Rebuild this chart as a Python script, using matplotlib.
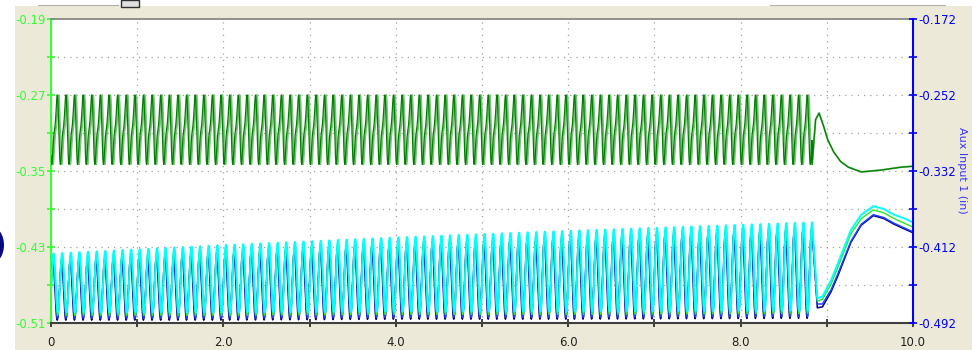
import numpy as np
import matplotlib
matplotlib.use("Agg")
import matplotlib.pyplot as plt
from matplotlib.patches import Rectangle, Ellipse

# ---------------- data ----------------
x_range = [0.0, 10.0]
left_range = [-0.51, -0.19]
right_range = [-0.492, -0.172]
right_label = "Aux Input 1 (in)"
x_tick_labels = ["0", "2.0", "4.0", "6.0", "8.0", "10.0"]

osc_freq_hz = 10.0            # oscillation rate
top_osc_end = 8.83
bot_osc_end = 8.83

# top green pair: peak / trough envelopes (left-axis units)
top_env_t = [0.0, 4.0, 8.83]
top_peak = [-0.270, -0.270, -0.270]
top_trough = [-0.343, -0.343, -0.343]
top_tail_t = [8.83, 8.87, 8.91, 8.96, 9.01, 9.08, 9.16, 9.25, 9.40, 9.63, 9.86, 10.0]
top_tail_v = [-0.343, -0.296, -0.289, -0.302, -0.317, -0.330, -0.340, -0.346, -0.351, -0.349, -0.346, -0.345]

# bottom group envelopes
bot_env_t = [0.0, 2.0, 4.0, 6.0, 8.83]
cyan_peak = [-0.437, -0.428, -0.420, -0.413, -0.404]
cyan_trough = [-0.499, -0.499, -0.498, -0.498, -0.497]
green_peak = [-0.440, -0.431, -0.423, -0.416, -0.407]
green_trough = [-0.502, -0.502, -0.501, -0.501, -0.500]
blue_peak = [-0.444, -0.435, -0.427, -0.420, -0.411]
blue_trough = [-0.505, -0.505, -0.504, -0.504, -0.503]
navy_peak = [-0.447, -0.438, -0.430, -0.423, -0.414]
navy_trough = [-0.507, -0.507, -0.506, -0.506, -0.505]

bot_tail_t = [8.83, 8.89, 8.95, 9.05, 9.13, 9.28, 9.40, 9.54, 9.66, 9.78, 9.90, 10.0]
cyan_tail = [-0.404, -0.484, -0.482, -0.465, -0.447, -0.412, -0.396, -0.387, -0.390, -0.396, -0.400, -0.404]
green_tail = [-0.407, -0.487, -0.485, -0.469, -0.451, -0.416, -0.400, -0.391, -0.394, -0.400, -0.405, -0.409]
blue_tail = [-0.411, -0.490, -0.490, -0.475, -0.458, -0.424, -0.406, -0.396, -0.399, -0.405, -0.410, -0.414]
navy_tail = [-0.413, -0.494, -0.493, -0.477, -0.460, -0.425, -0.407, -0.397, -0.400, -0.406, -0.411, -0.415]


def trace(env_t, peak, trough, t_end, tail_t, tail_v, phase, harm=0.0):
    t = np.arange(0.0, t_end, 0.004)
    pk = np.interp(t, env_t, peak)
    tr = np.interp(t, env_t, trough)
    w = 2 * np.pi * osc_freq_hz * (t - t_end) + phase
    s = np.cos(w) + harm * np.sin(2 * w)
    s = (s - s.min()) / (s.max() - s.min())
    v = tr + (pk - tr) * s
    return np.concatenate([t, tail_t]), np.concatenate([v, tail_v])


BEIGE = "#ECE9D8"
fig = plt.figure(figsize=(9.72, 3.5), dpi=100, facecolor="white")
fig.patches.append(Rectangle((15 / 972, 0), 1, (350 - 6) / 350, transform=fig.transFigure,
                             facecolor=BEIGE, edgecolor="none", zorder=-10))
fig.patches.append(Ellipse((-8 / 972, 1 - 245 / 350), 24 / 972, 36 / 350, transform=fig.transFigure,
                           facecolor="#0a0a80", edgecolor="none", zorder=-5))
fig.lines.append(plt.Line2D([38 / 972, 118 / 972], [1 - 5 / 350, 1 - 5 / 350],
                            transform=fig.transFigure, color="#b0b0b0", lw=0.8))
fig.patches.append(Rectangle((121 / 972, 1 - 7 / 350), 18 / 972, 7 / 350, transform=fig.transFigure,
                             facecolor="#e0e0e0", edgecolor="#303030", lw=1.0))
fig.lines.append(plt.Line2D([770 / 972, 945 / 972], [1 - 5 / 350, 1 - 5 / 350],
                            transform=fig.transFigure, color="#b0b0b0", lw=0.8))

ax = fig.add_axes([51 / 972, 1 - 323 / 350, (913 - 51) / 972, (323 - 19) / 350])
ax.set_facecolor("white")
ax.set_xlim(*x_range)
ax.set_ylim(*left_range)

# grid
for gx in np.arange(1, 10):
    ax.axvline(gx, color="#a0a0a0", lw=0.9, ls=(0, (1, 4)), zorder=0)
for gy in np.arange(left_range[0] + 0.04, left_range[1] - 0.001, 0.04):
    ax.axhline(gy, color="#a0a0a0", lw=0.9, ls=(0, (1, 4)), zorder=0)

# top green pair
t1, v1 = trace(top_env_t, top_peak, top_trough, top_osc_end, top_tail_t, top_tail_v, np.pi, harm=0.35)
t2, v2 = trace(top_env_t, top_peak, top_trough, top_osc_end, top_tail_t, top_tail_v, np.pi + 0.9, harm=0.35)
ax.plot(t1, v1, color="#7cc27c", lw=1.4, zorder=3)
ax.plot(t2, v2, color="#008000", lw=0.9, zorder=4)

# bottom group
for pk, tr, tail, col, ph, lw in [
    (navy_peak, navy_trough, navy_tail, "#000080", 0.5, 1.1),
    (blue_peak, blue_trough, blue_tail, "#2040ff", 0.3, 1.1),
    (green_peak, green_trough, green_tail, "#22ee22", 0.15, 1.0),
    (cyan_peak, cyan_trough, cyan_tail, "#00ffff", 0.0, 1.4),
]:
    tt, vv = trace(bot_env_t, pk, tr, bot_osc_end, bot_tail_t, tail, ph)
    ax.plot(tt, vv, color=col, lw=lw, zorder=5)

# axes styling
LIME = "#33ff33"
BLUE = "#0000ff"
ax.spines["left"].set_color(LIME)
ax.spines["left"].set_linewidth(1.5)
ax.spines["right"].set_visible(False)
ax.spines["top"].set_color("#808080")
ax.spines["top"].set_linewidth(1.2)
ax.spines["bottom"].set_color("#404040")
ax.spines["bottom"].set_linewidth(1.5)

ax.set_yticks(np.arange(left_range[0], left_range[1] + 0.001, 0.08))
ax.set_yticklabels(["%.2f" % v for v in np.arange(left_range[0], left_range[1] + 0.001, 0.08)])
ax.set_yticks(np.arange(left_range[0] + 0.04, left_range[1], 0.08), minor=True)
ax.tick_params(axis="y", which="both", colors=LIME, direction="inout", length=6, width=1.2,
               labelsize=8.5, pad=1)

ax.set_xticks(np.arange(0, 10.01, 2))
ax.set_xticklabels(x_tick_labels)
ax.set_xticks(np.arange(1, 10, 2), minor=True)
ax.tick_params(axis="x", which="both", colors="#202020", direction="inout", length=6, width=1.2,
               labelsize=8.5, pad=6)

ax2 = ax.twinx()
ax2.set_ylim(*right_range)
for s in ["left", "top", "bottom"]:
    ax2.spines[s].set_visible(False)
ax2.spines["right"].set_color(BLUE)
ax2.spines["right"].set_linewidth(1.5)
rt = np.arange(right_range[0], right_range[1] + 0.001, 0.08)
ax2.set_yticks(rt)
ax2.set_yticklabels(["%.3f" % v for v in rt])
ax2.set_yticks(np.arange(right_range[0] + 0.04, right_range[1], 0.08), minor=True)
ax2.tick_params(axis="y", which="both", colors=BLUE, direction="inout", length=6, width=1.2,
                labelsize=8.5, pad=1)
ax2.set_ylabel(right_label, color="#3333ff", rotation=270, fontsize=8, va="center", ha="center")
ax2.yaxis.set_label_coords((962 - 51) / 862, 1 - (170 - 19) / 304)

fig.savefig("out.png", dpi=100, facecolor=fig.get_facecolor())
